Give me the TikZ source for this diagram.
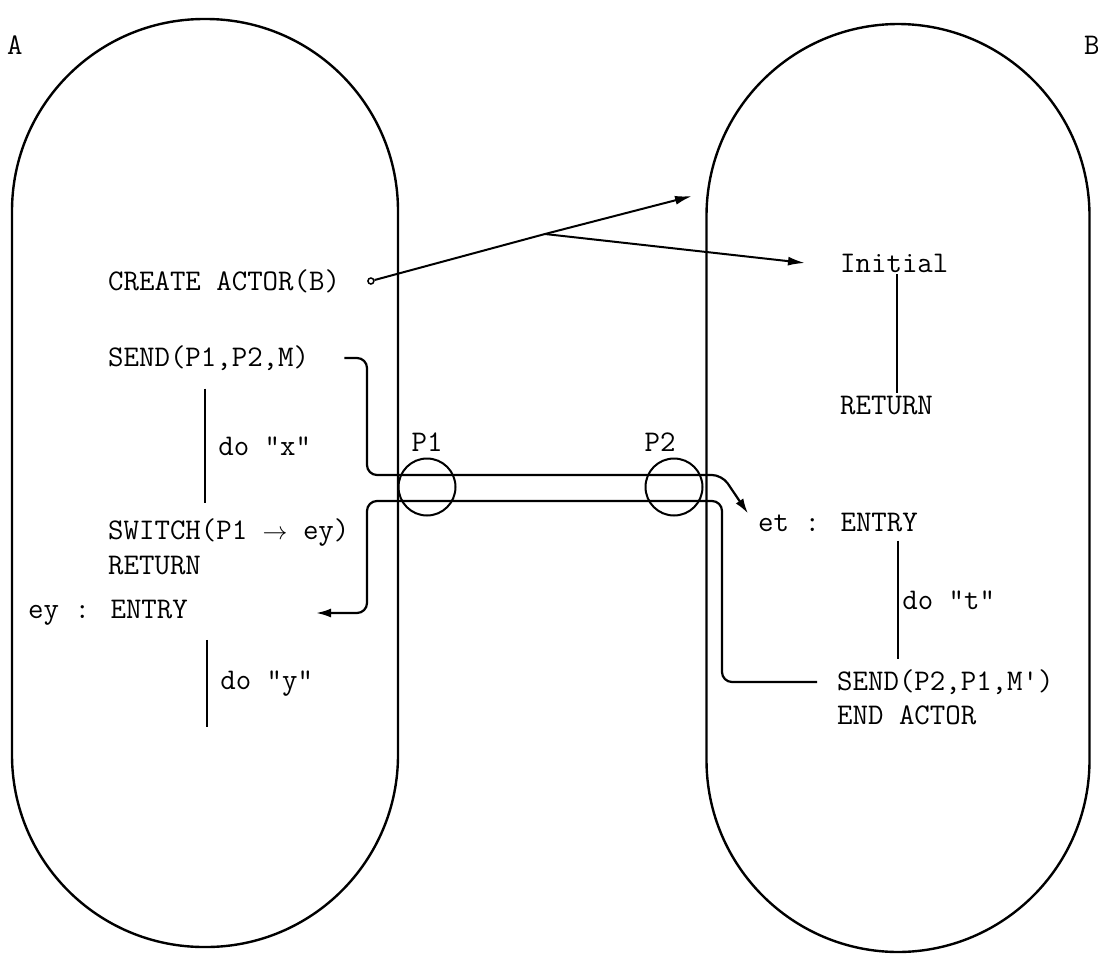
\documentclass[tikz,border=0pt]{standalone}
\usepackage{fontspec}
\usetikzlibrary{arrows.meta,positioning,calc}
\tikzset{
  actorbox/.style={
    draw,
    line width=2.4pt,
    minimum width=386pt,
    minimum height=928pt,
    rounded corners=192pt,
    inner sep=0pt
  },
  code/.style={
    font=\ttfamily\fontsize{30}{36}\selectfont,
    anchor=west,
    inner sep=0pt
  },
  port/.style={
    circle,
    draw,
    line width=2pt,
    minimum size=57pt,
    inner sep=0pt
  },
  seq/.style={
    line width=2.8pt
  },
  msg/.style={
    -{Latex[length=15pt,width=9pt]},
    line width=2.2pt,
    rounded corners=10pt
  },
  spawn/.style={
    -{Latex[length=17pt,width=9pt]},
    line width=2pt
  }
}
\begin{document}
\begin{tikzpicture}[x=1pt,y=-1pt]
\useasboundingbox (0,0) rectangle (1098,956);

\node[actorbox] (actA) at (205,483) {};
\node[actorbox, minimum width=383pt] (actB) at (898,488) {};
\node[code] (labA) at (7,45) {A};
\node[code] (labB) at (1084,45) {B};

\node[code] (create) at (108,281) {CREATE ACTOR(B)};
\node[code] (send1) at (108,358) {SEND(P1,P2,M)};
\node[code] (switch) at (108,533) {SWITCH(P1 $\rightarrow$ ey)};
\node[code] (ret1) at (108,566) {RETURN};
\node[code] (ey) at (28,613) {ey : ENTRY};

\node[code] (init) at (840,263) {Initial};
\node[code] (ret2) at (840,406) {RETURN};
\node[code] (et) at (758,523) {et : ENTRY};
\node[code] (send2) at (837,682) {SEND(P2,P1,M')};
\node[code] (endB) at (837,715) {END ACTOR};

\node[port] (p1) at (427,487) {};
\node[port] (p2) at (674,487) {};
\node[code, above=6pt of p1] (p1lab) {P1};
\node[code, above=6pt of p2, xshift=-14pt] (p2lab) {P2};

\coordinate (xbar) at (205,0);
\coordinate (ybar) at (207,727);
\coordinate (tbar) at (898,0);
\coordinate (fork) at (545,234);
\coordinate (newB) at (692,196);

\node[circle, draw, line width=1.5pt, inner sep=0pt, minimum size=6pt, right=27pt of create] (cdot) {};
\draw[line width=2pt] (cdot) -- (fork);
\draw[spawn] (fork) -- (newB);
\draw[spawn] (fork) -- ([xshift=-35pt]init.west);

\draw[seq] ([yshift=-2pt]init.south -| 897,0) -- ([yshift=3pt]ret2.north -| 897,0);
\draw[seq] ([yshift=-18pt]send1.south -| xbar) -- node[code, right=12pt] (dox) {do "x"} ([yshift=16pt]switch.north -| xbar);
\draw[seq] ([yshift=-14pt]ey.south -| ybar) -- node[code, right=12pt] (doy) {do "y"} (ybar);
\draw[seq] ([yshift=-8pt]et.south -| tbar) -- node[code, right=3pt] (dot) {do "t"} ([yshift=10pt]send2.north -| tbar);

\draw[msg] ([xshift=35pt]send1.east) -| ($(p1.center)+(-60,-12)$) -- ($(p2.center)+(48,-12)$) -- ([xshift=-10pt]et.north west);
\draw[msg] ([xshift=-20pt]send2.west) -| ($(p2.center)+(48,14)$) -- ($(p1.center)+(-60,14)$) |- ([xshift=128pt]ey.east);

\end{tikzpicture}
\end{document}
